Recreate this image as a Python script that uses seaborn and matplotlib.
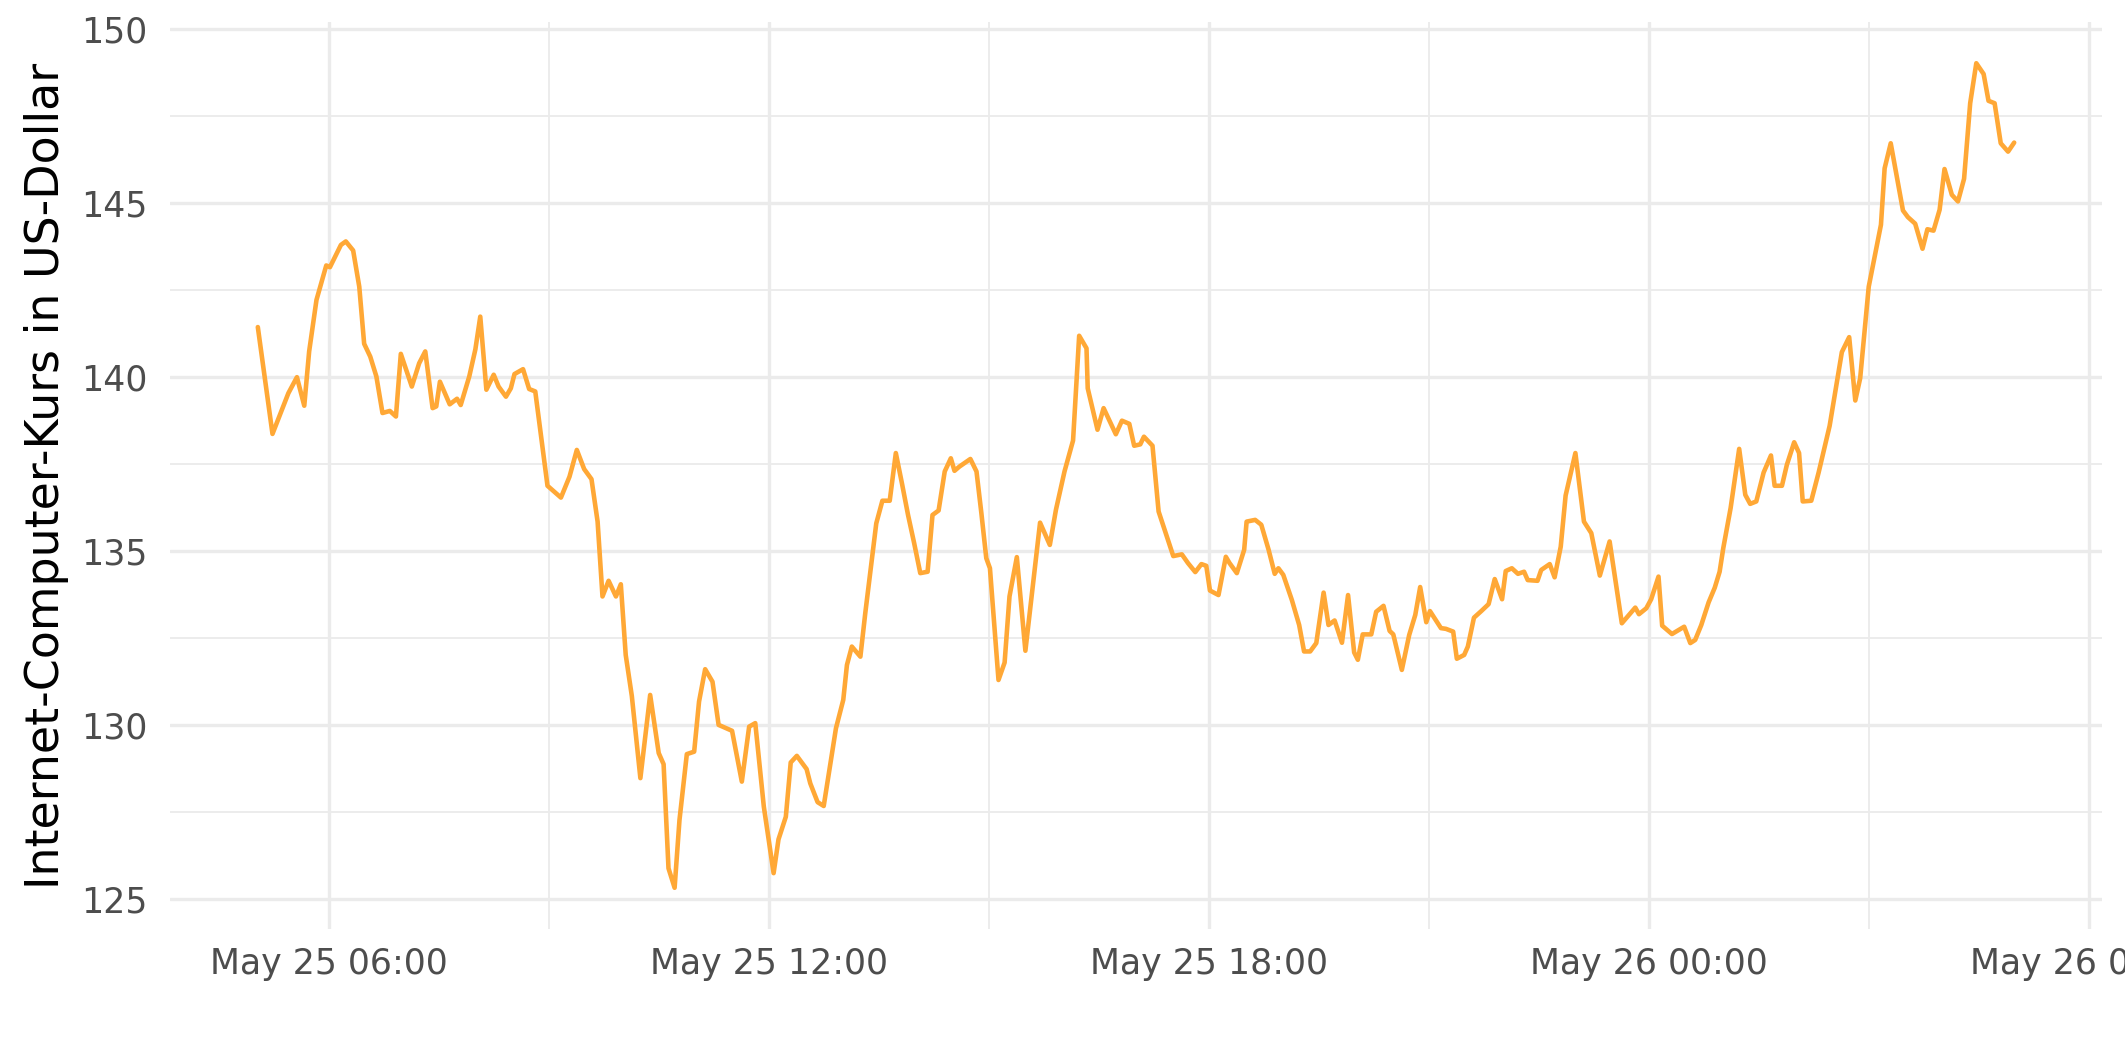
import pandas as pd
import numpy as np
import matplotlib
matplotlib.use("Agg")
import matplotlib.pyplot as plt
import matplotlib.dates as mdates
from matplotlib.ticker import MultipleLocator
import seaborn as sns

# ---- data ----
times_may25 = [
    "05:02", "05:14", "05:27", "05:34", "05:40", "05:44", "05:50", "05:58", "06:01", "06:10",
    "06:14", "06:20", "06:25", "06:29", "06:34", "06:39", "06:44", "06:50", "06:55", "06:59",
    "07:08", "07:14", "07:19", "07:25", "07:28", "07:31", "07:39", "07:45", "07:48", "07:55",
    "08:00", "08:04", "08:09", "08:15", "08:19", "08:25", "08:29", "08:32", "08:39", "08:44",
    "08:49", "08:59", "09:10", "09:17", "09:23", "09:29", "09:35", "09:40", "09:44", "09:49",
    "09:55", "09:59", "10:03", "10:08", "10:15", "10:23", "10:30", "10:34", "10:38", "10:43",
    "10:47", "10:53", "10:59", "11:03", "11:08", "11:14", "11:19", "11:30", "11:38", "11:44",
    "11:49", "11:56", "12:04", "12:08", "12:14", "12:18", "12:23", "12:31", "12:34", "12:40",
    "12:45", "12:55", "13:01", "13:04", "13:08", "13:15", "13:19", "13:23", "13:28", "13:33",
    "13:39", "13:44", "13:49", "13:54", "13:59", "14:04", "14:10", "14:14", "14:19", "14:24",
    "14:29", "14:32", "14:36", "14:45", "14:50", "14:54", "14:58", "15:01", "15:08", "15:13",
    "15:17", "15:23", "15:30", "15:42", "15:50", "15:55", "16:02", "16:09", "16:14", "16:20",
    "16:21", "16:29", "16:34", "16:44", "16:49", "16:55", "16:59", "17:04", "17:07", "17:14",
    "17:19", "17:23", "17:31", "17:38", "17:43", "17:49", "17:54", "17:58", "18:01", "18:08",
    "18:14", "18:17", "18:23", "18:29", "18:31", "18:38", "18:43", "18:49", "18:54", "18:57",
    "19:01", "19:08", "19:14", "19:18", "19:23", "19:28", "19:34", "19:38", "19:43", "19:49",
    "19:54", "19:59", "20:02", "20:06", "20:13", "20:17", "20:23", "20:28", "20:31", "20:38",
    "20:44", "20:49", "20:53", "20:58", "21:01", "21:10", "21:14", "21:20", "21:23", "21:29",
    "21:32", "21:37", "21:43", "21:49", "21:54", "22:00", "22:03", "22:08", "22:13", "22:18",
    "22:21", "22:29", "22:32", "22:39", "22:43", "22:48", "22:52", "23:00", "23:07", "23:13",
    "23:20", "23:28", "23:38", "23:49", "23:52", "23:58",
]
prices_may25 = [
    141.44, 138.37, 139.54, 140.00, 139.18, 140.74, 142.22, 143.21, 143.16, 143.80,
    143.90, 143.64, 142.60, 140.96, 140.59, 140.02, 138.97, 139.03, 138.87, 140.67,
    139.73, 140.40, 140.74, 139.11, 139.16, 139.87, 139.22, 139.38, 139.20, 140.02,
    140.80, 141.74, 139.64, 140.07, 139.73, 139.44, 139.68, 140.09, 140.23, 139.66,
    139.59, 136.88, 136.54, 137.14, 137.91, 137.36, 137.07, 135.85, 133.70, 134.15,
    133.70, 134.05, 132.02, 130.84, 128.48, 130.87, 129.20, 128.88, 125.89, 125.33,
    127.28, 129.17, 129.24, 130.68, 131.61, 131.25, 130.01, 129.84, 128.38, 129.96,
    130.06, 127.66, 125.75, 126.72, 127.37, 128.93, 129.12, 128.74, 128.33, 127.79,
    127.68, 129.91, 130.73, 131.73, 132.26, 131.97, 133.22, 134.37, 135.80, 136.45,
    136.45, 137.82, 136.95, 136.04, 135.23, 134.37, 134.41, 136.04, 136.17, 137.29,
    137.67, 137.31, 137.43, 137.65, 137.29, 136.09, 134.80, 134.51, 131.30, 131.80,
    133.70, 134.83, 132.14, 135.82, 135.18, 136.19, 137.29, 138.18, 141.19, 140.83,
    139.68, 138.49, 139.11, 138.36, 138.75, 138.66, 138.03, 138.07, 138.29, 138.03,
    136.14, 135.71, 134.86, 134.91, 134.66, 134.40, 134.63, 134.58, 133.87, 133.74,
    134.84, 134.66, 134.37, 135.04, 135.85, 135.90, 135.76, 135.04, 134.35, 134.51,
    134.32, 133.60, 132.88, 132.12, 132.12, 132.36, 133.81, 132.88, 133.01, 132.37,
    133.74, 132.09, 131.88, 132.61, 132.61, 133.26, 133.43, 132.71, 132.61, 131.59,
    132.59, 133.17, 133.97, 132.96, 133.28, 132.79, 132.77, 132.69, 131.91, 132.02,
    132.26, 133.09, 133.28, 133.48, 134.20, 133.62, 134.43, 134.51, 134.35, 134.41,
    134.17, 134.15, 134.46, 134.63, 134.25, 135.13, 136.60, 137.82, 135.85, 135.52,
    134.30, 135.28, 132.93, 133.38, 133.19, 133.36,
]
times_may26 = [
    "00:02", "00:08", "00:11", "00:19", "00:29", "00:34", "00:38", "00:43", "00:49", "00:54",
    "00:58", "01:01", "01:07", "01:14", "01:19", "01:23", "01:28", "01:34", "01:40", "01:43",
    "01:49", "01:53", "01:59", "02:03", "02:06", "02:13", "02:19", "02:28", "02:38", "02:44",
    "02:49", "02:53", "03:00", "03:10", "03:13", "03:18", "03:28", "03:32", "03:38", "03:44",
    "03:48", "03:53", "03:58", "04:02", "04:08", "04:13", "04:18", "04:23", "04:28", "04:34",
    "04:38", "04:43", "04:48", "04:54", "04:59",
]
prices_may26 = [
    133.62, 134.27, 132.86, 132.62, 132.83, 132.36, 132.45, 132.88, 133.53, 133.95,
    134.41, 135.09, 136.24, 137.94, 136.62, 136.36, 136.43, 137.26, 137.75, 136.88,
    136.88, 137.48, 138.13, 137.82, 136.43, 136.45, 137.26, 138.60, 140.72, 141.15,
    139.33, 139.97, 142.60, 144.38, 146.00, 146.72, 144.79, 144.60, 144.41, 143.69,
    144.25, 144.21, 144.81, 145.98, 145.24, 145.05, 145.70, 147.87, 149.02, 148.71,
    147.94, 147.87, 146.72, 146.48, 146.74,
]
y_ticks = [125, 130, 135, 140, 145, 150]
y_label = "Internet-Computer-Kurs in US-Dollar"

# ---- build table ----
stamps = ["2024-05-25 " + t for t in times_may25] + ["2024-05-26 " + t for t in times_may26]
df = pd.DataFrame({"Zeit": pd.to_datetime(stamps), "Kurs": prices_may25 + prices_may26})

# ---- style ----
sns.set_theme(style="white")
plt.rcParams["font.family"] = ["DejaVu Sans"]

fig = plt.figure(figsize=(21.25, 10.62), dpi=100)
ax = fig.add_axes([170 / 2125, 1 - 929 / 1062, (2102 - 170) / 2125, (929 - 22) / 1062])

sns.lineplot(data=df, x="Zeit", y="Kurs", ax=ax, color="#FFA836", linewidth=3.3)

ax.margins(x=0.05, y=0.05)
ax.set_yticks(y_ticks)
ax.yaxis.set_minor_locator(MultipleLocator(2.5))
ax.xaxis.set_major_locator(mdates.HourLocator(byhour=[0, 6, 12, 18]))
ax.xaxis.set_minor_locator(mdates.HourLocator(byhour=[3, 9, 15, 21]))
ax.xaxis.set_major_formatter(mdates.DateFormatter("%b %d %H:%M"))

ax.grid(which="major", color="#EBEBEB", linewidth=2.4)
ax.grid(which="minor", color="#EBEBEB", linewidth=1.3)
ax.set_axisbelow(True)
for s in ax.spines.values():
    s.set_visible(False)

ax.tick_params(axis="both", which="both", length=0, labelsize=25, labelcolor="#4D4D4D")
ax.tick_params(axis="x", pad=13)
ax.tick_params(axis="y", pad=16)
ax.set_xlabel("")
ax.set_ylabel(y_label, fontsize=33, color="black", labelpad=9)

fig.savefig("out.png", dpi=100)
